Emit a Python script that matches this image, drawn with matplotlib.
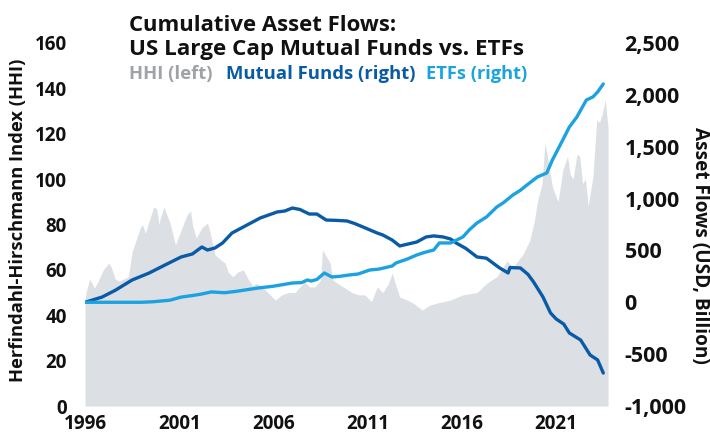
import matplotlib
matplotlib.use("Agg")
import matplotlib.pyplot as plt
from matplotlib.ticker import FuncFormatter

plt.rcParams['font.family'] = ['Open Sans', 'DejaVu Sans']
plt.rcParams['font.weight'] = 'bold'

# ---------------- data ----------------
hhi_years = [1996.0, 1996.05, 1996.25, 1996.5, 1996.7, 1996.97, 1997.26, 1997.4, 1997.6, 1997.8,
             1998.05, 1998.3, 1998.5, 1998.75, 1998.93, 1999.05, 1999.2, 1999.46, 1999.64, 1999.8,
             1999.93, 2000.0, 2000.2, 2000.35, 2000.5, 2000.8, 2001.06, 2001.4, 2001.6, 2001.7,
             2001.9, 2002.2, 2002.5, 2002.65, 2002.9, 2003.27, 2003.43, 2003.6, 2003.85, 2004.1,
             2004.4, 2004.65, 2004.9, 2005.1, 2005.4, 2005.7, 2006.1, 2006.45, 2006.8, 2007.15,
             2007.4, 2007.67, 2007.9, 2008.2, 2008.5, 2008.6, 2008.8, 2009.0, 2009.15, 2009.4,
             2009.8, 2010.16, 2010.5, 2010.85, 2011.2, 2011.5, 2011.8, 2012.1, 2012.3, 2012.5,
             2012.7, 2013.1, 2013.4, 2013.9, 2014.3, 2014.7, 2015.4, 2016.05, 2016.8, 2017.3,
             2017.85, 2018.4, 2018.7, 2019.25, 2019.6, 2019.85, 2020.0, 2020.25, 2020.4, 2020.6,
             2020.8, 2021.1, 2021.35, 2021.6, 2021.75, 2021.9, 2022.1, 2022.25, 2022.4, 2022.55,
             2022.7, 2022.95, 2023.15, 2023.3, 2023.45, 2023.6, 2023.75]
hhi_values = [46, 50, 56, 52, 55, 60, 63, 61, 56, 55,
              56, 57, 68, 74, 78.5, 80, 76, 83, 87.7, 87,
              80, 83, 87.7, 84, 81, 71, 76.7, 84, 86, 80,
              74, 78.5, 80.7, 76, 66.6, 64, 63, 59, 57, 59,
              60, 56, 53, 54, 52.5, 50, 46.7, 49, 50, 50,
              52.5, 54.7, 52.5, 52.5, 55.5, 68.8, 66, 63, 55.5, 54,
              52, 50, 49, 49, 46, 52.5, 50, 54, 58.6, 53,
              48, 46.7, 45.4, 42.3, 44.5, 45.4, 46.7, 49, 50, 54,
              57, 64, 61, 67, 73, 82, 90, 98, 116, 107,
              96.5, 90, 104, 110, 102, 100, 111, 110, 98, 100,
              88, 101, 126, 125, 129, 135, 123]

mf_years = [1996.0, 1996.9, 1997.6, 1998.5, 1999.4, 2000.25, 2001.1, 2001.7, 2002.2, 2002.5,
            2002.9, 2003.3, 2003.8, 2004.4, 2005.3, 2006.2, 2006.6, 2007.0, 2007.4, 2007.9,
            2008.3, 2008.8, 2009.3, 2009.9, 2010.3, 2010.75, 2011.5, 2011.8, 2012.3, 2012.7,
            2013.1, 2013.6, 2014.1, 2014.5, 2015.0, 2015.4, 2015.7, 2016.2, 2016.8, 2017.3,
            2018.0, 2018.45, 2018.55, 2019.1, 2019.5, 2019.8, 2020.3, 2020.7, 2021.0, 2021.4,
            2021.7, 2022.3, 2022.8, 2023.2, 2023.5]
mf_values = [0, 50, 115, 215, 282, 360, 437, 466, 533, 504,
             524, 572, 668, 726, 813, 871, 880, 909, 895, 851,
             851, 793, 790, 784, 760, 726, 668, 649, 600, 543,
             560, 581, 630, 640, 630, 610, 571, 520, 437, 425,
             331, 283, 335, 331, 270, 196, 51, -103, -161, -210,
             -296, -364, -508, -556, -682]

etf_years = [1996.0, 1997.0, 1998.0, 1999.0, 1999.6, 2000.5, 2001.1, 2001.7, 2002.2, 2002.7,
             2003.4, 2004.0, 2005.2, 2006.0, 2007.0, 2007.5, 2007.8, 2008.0, 2008.3, 2008.7,
             2009.1, 2009.5, 2010.0, 2010.5, 2011.1, 2011.6, 2012.3, 2012.5, 2013.1, 2013.6,
             2014.0, 2014.5, 2014.8, 2015.4, 2016.05, 2016.4, 2016.8, 2017.3, 2017.85, 2018.2,
             2018.7, 2019.1, 2019.45, 2020.0, 2020.5, 2020.8, 2021.35, 2021.7, 2022.1, 2022.6,
             2022.95, 2023.2, 2023.5]
etf_values = [0, 0, 0, 0, 5, 20, 50, 65, 80, 100,
              92, 105, 138, 155, 186, 190, 215, 205, 220, 282,
              244, 250, 263, 273, 311, 320, 350, 379, 417, 456,
              480, 504, 572, 572, 630, 700, 765, 822, 919, 960,
              1034, 1080, 1131, 1208, 1247, 1372, 1565, 1690, 1787, 1950,
              1980, 2028, 2105]

x_ticks = [1996, 2001, 2006, 2011, 2016, 2021]
left_ticks = [0, 20, 40, 60, 80, 100, 120, 140, 160]
right_ticks = [-1000, -500, 0, 500, 1000, 1500, 2000, 2500]

GRAY = '#dcdfe4'
MF_COLOR = '#0a5ba6'
ETF_COLOR = '#1ca3df'
LEG_GRAY = '#9fa2a7'
TXT = '#111111'

# ---------------- figure ----------------
W, H = 710, 437
fig = plt.figure(figsize=(W / 100, H / 100), dpi=100)
ax = fig.add_axes([85 / W, 1 - 406 / H, (608 - 85) / W, (406 - 43) / H])
ax.fill_between(hhi_years, 0, hhi_values, color=GRAY, linewidth=0)
ax.set_xlim(1996, 2023.75)
ax.set_ylim(0, 160)
ax.set_yticks(left_ticks)
ax.set_xticks(x_ticks)
ax.tick_params(axis='both', length=0, labelsize=12, colors=TXT)
ax.tick_params(axis='y', pad=13)
ax.tick_params(axis='x', pad=6)
for s in ax.spines.values():
    s.set_visible(False)

ax2 = ax.twinx()
ax2.plot(mf_years, mf_values, color=MF_COLOR, linewidth=2.4, solid_capstyle='round')
ax2.plot(etf_years, etf_values, color=ETF_COLOR, linewidth=2.4, solid_capstyle='round')
ax2.set_ylim(-1000, 2500)
ax2.set_yticks(right_ticks)
ax2.yaxis.set_major_formatter(FuncFormatter(lambda v, p: f"{int(v):,}"))
ax2.tick_params(axis='y', length=0, labelsize=12, pad=12, colors=TXT)
for s in ax2.spines.values():
    s.set_visible(False)

# axis titles
t_l = fig.text(18 / W, 1 - 220 / H, 'Herfindahl-Hirschmann Index (HHI)', rotation=90,
               ha='center', va='center', fontsize=11, fontweight='bold', color=TXT)
t_r = fig.text(700 / W, 1 - 245 / H, 'Asset Flows (USD, Billion)', rotation=270,
               ha='center', va='center', fontsize=11, fontweight='bold', color=TXT)
# title
t1 = fig.text(129 / W, 1 - 31 / H, 'Cumulative Asset Flows:', ha='left', va='baseline',
              fontsize=12.5, fontweight='bold', color=TXT)
t2 = fig.text(129 / W, 1 - 55 / H, 'US Large Cap Mutual Funds vs. ETFs', ha='left', va='baseline',
              fontsize=12.5, fontweight='bold', color=TXT)
# legend as coloured text
g1 = fig.text(129 / W, 1 - 79 / H, 'HHI (left)', ha='left', va='baseline',
              fontsize=11.5, fontweight='bold', color=LEG_GRAY)
g2 = fig.text(226 / W, 1 - 79 / H, 'Mutual Funds (right)', ha='left', va='baseline',
              fontsize=11.5, fontweight='bold', color=MF_COLOR)
g3 = fig.text(426 / W, 1 - 79 / H, 'ETFs (right)', ha='left', va='baseline',
              fontsize=11.5, fontweight='bold', color=ETF_COLOR)

# fit font sizes to the widths measured on the reference
fig.canvas.draw()
r = fig.canvas.get_renderer()

def fit(t, target, vertical=False):
    bb = t.get_window_extent(r)
    cur = bb.height if vertical else bb.width
    t.set_fontsize(t.get_fontsize() * target / cur)

fit(t1, 266)
fit(t2, 394)
fit(g1, 84)
fit(g2, 189)
fit(g3, 102)
fit(t_l, 325, vertical=True)
fit(t_r, 236, vertical=True)

xl = [l for l in ax.get_xticklabels() if l.get_text() == '1996'][0]
xs = 12 * 43 / xl.get_window_extent(r).width
yl = [l for l in ax.get_yticklabels() if l.get_text() == '160'][0]
ys = 12 * 32 / yl.get_window_extent(r).width
rl = [l for l in ax2.get_yticklabels() if l.get_text() == '2,500'][0]
rs = 12 * 55 / rl.get_window_extent(r).width
ax.tick_params(axis='x', labelsize=xs)
ax.tick_params(axis='y', labelsize=ys)
ax2.tick_params(axis='y', labelsize=rs)
for lbl in ax.get_xticklabels() + ax.get_yticklabels() + ax2.get_yticklabels():
    lbl.set_fontweight('bold')

fig.savefig('out.png', dpi=100)
